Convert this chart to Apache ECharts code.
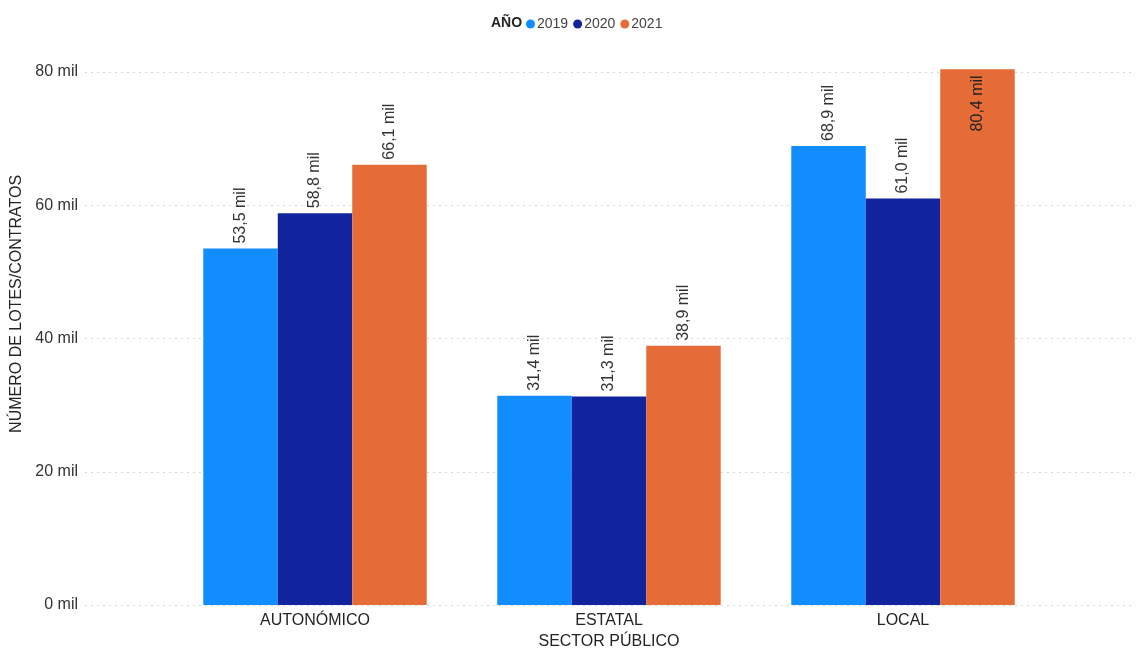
<!DOCTYPE html>
<html>
<head>
<meta charset="utf-8">
<script src="https://cdn.jsdelivr.net/npm/echarts@6/dist/echarts.min.js"></script>
<style>
  html, body { margin: 0; padding: 0; background: #fff; }
  #main { width: 1137px; height: 648px; }
</style>
</head>
<body>
<div id="main"></div>
<script>
// datos (miles de lotes/contratos)
var categorias = ['AUTONÓMICO', 'ESTATAL', 'LOCAL'];
var anios = ['2019', '2020', '2021'];
var v2019 = [53.5, 31.4, 68.9];
var v2020 = [58.8, 31.3, 61.0];
var v2021 = [66.1, 38.9, 80.4];
var colores = ['#118DFF', '#12239E', '#E66C37'];

var chart = echarts.init(document.getElementById('main'));

function fmtMil(v) {
  return v.toFixed(1).replace('.', ',') + ' mil';
}

var FONT = 'Arial, "Liberation Sans", sans-serif';
var TOP = 58.7, BOTTOM = 43;

function serie(nombre, valores, color) {
  return {
    name: nombre,
    type: 'bar',
    xAxisIndex: 0,
    yAxisIndex: 0,
    barGap: '0%',
    barCategoryGap: '24%',
    itemStyle: { color: color },
    label: {
      show: true,
      position: 'top',
      rotate: 90,
      align: 'left',
      verticalAlign: 'middle',
      distance: 5,
      fontFamily: FONT,
      fontSize: 16,
      color: '#333',
      formatter: function (p) { return fmtMil(p.value); }
    },
    // la barra que llega al techo lleva la etiqueta dentro
    data: valores.map(function (v) {
      if (v > 78) {
        return {
          value: v,
          label: { position: 'insideTop', align: 'right', distance: 6, color: '#222' }
        };
      }
      return v;
    })
  };
}

var option = {
  animation: false,
  title: {
    text: 'AÑO',
    left: 486,
    top: 11,
    textStyle: { fontFamily: FONT, fontSize: 14, fontWeight: 'bold', color: '#252423' }
  },
  legend: {
    left: 521,
    top: 12,
    icon: 'circle',
    itemWidth: 9,
    itemHeight: 9,
    itemGap: 5,
    textStyle: { fontFamily: FONT, fontSize: 14, color: '#444', padding: [0, 0, 0, -3] },
    data: anios
  },
  grid: [
    { left: 168, right: 87, top: TOP, bottom: BOTTOM, outerBoundsMode: 'none' },
    { left: 85, right: 3, top: TOP, bottom: BOTTOM, outerBoundsMode: 'none' }
  ],
  xAxis: [
    {
      gridIndex: 0,
      type: 'category',
      data: categorias,
      axisLine: { show: false },
      axisTick: { show: false },
      axisLabel: { margin: 8, fontFamily: FONT, fontSize: 16, color: '#252423' },
      name: 'SECTOR PÚBLICO',
      nameLocation: 'middle',
      nameGap: 26,
      nameTextStyle: { fontFamily: FONT, fontSize: 16, color: '#252423' }
    },
    {
      gridIndex: 1,
      type: 'value',
      show: false
    }
  ],
  yAxis: [
    {
      gridIndex: 0,
      type: 'value',
      min: 0,
      max: 82,
      interval: 20,
      show: false,
      splitLine: { show: false }
    },
    {
      gridIndex: 1,
      type: 'value',
      min: 0,
      max: 82,
      interval: 20,
      axisLine: { show: false },
      axisTick: { show: false },
      axisLabel: {
        margin: 7,
        showMaxLabel: false,
        fontFamily: FONT,
        fontSize: 16,
        color: '#333',
        formatter: function (v) { return v % 20 === 0 ? v + ' mil' : ''; }
      },
      splitLine: {
        show: true,
        showMaxLine: false,
        lineStyle: { type: [2, 4], color: '#d6d6d6', width: 1 }
      },
      name: 'NÚMERO DE LOTES/CONTRATOS',
      nameLocation: 'middle',
      nameGap: 58,
      nameTextStyle: { fontFamily: FONT, fontSize: 16, color: '#252423', padding: [0, 0, 0, 56] }
    }
  ],
  series: [
    serie(anios[0], v2019, colores[0]),
    serie(anios[1], v2020, colores[1]),
    serie(anios[2], v2021, colores[2])
  ]
};

chart.setOption(option);
</script>
</body>
</html>
